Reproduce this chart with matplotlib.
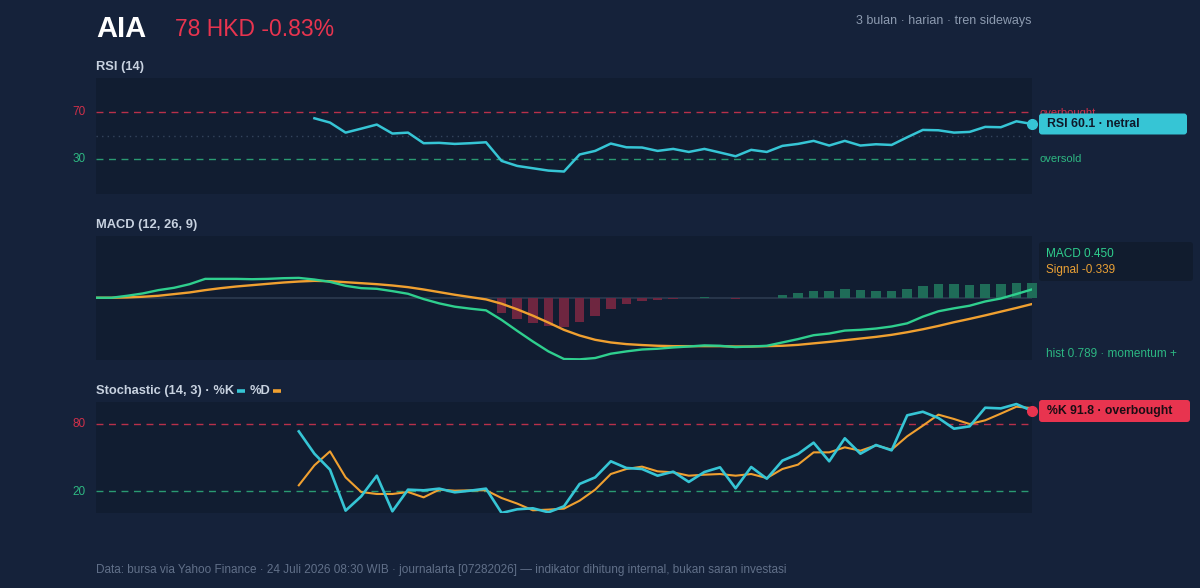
import numpy as np
import matplotlib
matplotlib.use("Agg")
import matplotlib.pyplot as plt
from matplotlib.patches import FancyBboxPatch

plt.rcParams['font.family'] = ['Liberation Sans', 'DejaVu Sans']

# ---- data ----
rsi_idx = list(range(14, 61))
rsi = [65.0, 61.3, 52.7, 56.1, 59.6, 51.9, 52.7, 43.6, 43.9, 43.0, 43.6, 44.4,
       28.4, 24.1, 22.1, 20.1, 19.3, 33.9, 37.0, 43.3, 40.1, 39.9, 37.0, 38.7,
       36.1, 38.7, 35.6, 32.4, 37.9, 36.1, 41.3, 43.0, 45.6, 41.6, 45.6, 41.6,
       42.7, 42.1, 48.7, 55.0, 54.7, 52.7, 53.3, 57.6, 57.3, 62.4, 60.1]

macd_idx = list(range(0, 61))
macd = [0.0, 0.0, 0.107, 0.232, 0.411, 0.536, 0.732, 1.018, 1.018, 1.018, 1.0,
        1.018, 1.054, 1.071, 0.982, 0.857, 0.643, 0.518, 0.482, 0.357, 0.214,
        -0.071, -0.304, -0.482, -0.589, -0.679, -1.196, -1.786, -2.357, -2.893,
        -3.304, -3.321, -3.25, -3.018, -2.893, -2.79, -2.75, -2.68, -2.63, -2.57,
        -2.59, -2.66, -2.63, -2.59, -2.41, -2.23, -2.02, -1.93, -1.77, -1.73,
        -1.66, -1.55, -1.38, -1.02, -0.73, -0.57, -0.43, -0.20, -0.04, 0.20, 0.45]
signal = [0.0, 0.0, 0.018, 0.054, 0.107, 0.196, 0.286, 0.411, 0.518, 0.607,
          0.679, 0.75, 0.821, 0.875, 0.911, 0.893, 0.839, 0.786, 0.732, 0.661,
          0.571, 0.446, 0.304, 0.161, 0.036, -0.089, -0.321, -0.625, -0.964,
          -1.339, -1.732, -2.036, -2.268, -2.411, -2.5, -2.55, -2.59, -2.61,
          -2.61, -2.61, -2.61, -2.63, -2.63, -2.61, -2.59, -2.54, -2.46, -2.38,
          -2.29, -2.20, -2.11, -2.00, -1.86, -1.70, -1.52, -1.32, -1.14, -0.95,
          -0.75, -0.55, -0.339]
hist_idx = list(range(26, 61))
hist = [-0.84, -1.14, -1.34, -1.50, -1.57, -1.29, -0.96, -0.59, -0.36, -0.18,
        -0.14, -0.05, -0.04, 0.02, -0.02, -0.07, 0.0, 0.0, 0.13, 0.25, 0.39,
        0.37, 0.46, 0.41, 0.39, 0.36, 0.46, 0.64, 0.73, 0.73, 0.70, 0.75, 0.75,
        0.80, 0.789]

stoch_idx = list(range(13, 61))
stoch_k = [73.4, 53.4, 39.1, 2.4, 15.2, 33.7, 1.8, 21.2, 20.6, 22.1, 18.8, 20.3,
           22.1, 0.3, 3.6, 4.5, 0.9, 6.3, 26.3, 32.2, 46.6, 40.6, 39.7, 33.7,
           37.3, 28.1, 37.0, 41.2, 22.4, 41.5, 31.0, 47.2, 53.1, 63.3, 46.6,
           67.2, 53.4, 61.2, 56.4, 87.8, 91.0, 85.4, 75.8, 77.9, 94.6, 94.0,
           97.9, 91.8]
stoch_d = [25.1, 43.0, 55.5, 32.2, 19.1, 17.3, 17.3, 19.1, 14.3, 21.2, 20.3,
           20.6, 20.6, 13.7, 8.7, 2.7, 3.3, 4.2, 11.3, 21.2, 35.2, 39.7, 41.8,
           37.6, 36.7, 33.7, 34.6, 35.2, 33.7, 35.2, 31.6, 39.7, 43.6, 54.6,
           54.6, 59.1, 56.1, 60.9, 57.0, 69.0, 78.5, 88.4, 84.5, 80.0, 83.3,
           89.3, 95.5, 94.3]

# ---- style ----
BG = '#15223a'
PANEL = '#111d31'
CYAN = '#36c5d5'
ORANGE = '#f0a030'
GREEN = '#2fcf8e'
RED = '#e8344f'
TITLE_C = '#c8d2e0'
W, H = 1200, 588

fig = plt.figure(figsize=(12, 5.88), dpi=100, facecolor=BG)


def panel(top, bottom):
    ax = fig.add_axes([96 / W, 1 - bottom / H, 936 / W, (bottom - top) / H])
    ax.set_facecolor(PANEL)
    for s in ax.spines.values():
        s.set_visible(False)
    ax.set_xticks([])
    ax.set_yticks([])
    ax.set_xlim(0, 60)
    return ax


# RSI
ax1 = panel(77.5, 194)
ax1.set_ylim(0, 100)
ax1.axhline(70, color='#b8304a', lw=1, ls=(0, (5, 4)))
ax1.axhline(30, color='#2a9a72', lw=1, ls=(0, (5, 4)))
ax1.axhline(50, color='#34445c', lw=1, ls=(0, (1, 3)))
ax1.plot(rsi_idx, rsi, color=CYAN, lw=1.8, solid_joinstyle='round')
ax1.plot(rsi_idx[-1], rsi[-1], 'o', color=CYAN, ms=7, clip_on=False, zorder=5)

# MACD
ax2 = panel(236, 359.5)
ax2.set_ylim(-3.33, 3.33)
ax2.axhline(0, color='#2c3a50', lw=1.2)
ax2.bar(hist_idx, hist, width=0.62,
        color=['#1f6c58' if v >= 0 else '#6e2640' for v in hist],
        clip_on=False, zorder=2)
ax2.plot(macd_idx, signal, color=ORANGE, lw=1.7, zorder=3)
ax2.plot(macd_idx, macd, color=GREEN, lw=1.7, zorder=4)

# Stochastic
ax3 = panel(401.7, 513.3)
ax3.set_ylim(0, 100)
ax3.axhline(80, color='#b8304a', lw=1, ls=(0, (5, 4)))
ax3.axhline(20, color='#2a9a72', lw=1, ls=(0, (5, 4)))
ax3.plot(stoch_idx, stoch_d, color=ORANGE, lw=1.5, zorder=3)
ax3.plot(stoch_idx, stoch_k, color=CYAN, lw=1.9, zorder=4)
ax3.plot(stoch_idx[-1], stoch_k[-1], 'o', color=RED, ms=7, clip_on=False, zorder=5)

# overlay in pixel coordinates for texts and boxes
ov = fig.add_axes([0, 0, 1, 1], facecolor='none')
ov.set_xlim(0, W)
ov.set_ylim(H, 0)
ov.axis('off')

ov.text(96, 29, 'AIA', color='white', fontsize=21, fontweight='bold', va='center')
ov.text(175, 30, '78 HKD -0.83%', color=RED, fontsize=16.5, va='center')
ov.text(1032, 21, '3 bulan · harian · tren sideways', color='#8d9bb0',
        fontsize=9, va='center', ha='right')

ov.text(96, 67, 'RSI (14)', color=TITLE_C, fontsize=9.3, fontweight='bold', va='center')
ov.text(96, 225, 'MACD (12, 26, 9)', color=TITLE_C, fontsize=9.3, fontweight='bold', va='center')
st = ov.text(96, 391, 'Stochastic (14, 3) · %K', color=TITLE_C, fontsize=9.3,
             fontweight='bold', va='center')

# y labels
ov.text(86, 112.3, '70', color='#d0304a', fontsize=8.5, va='center', ha='right')
ov.text(86, 159, '30', color='#2eb882', fontsize=8.5, va='center', ha='right')
ov.text(86, 424.3, '80', color='#d0304a', fontsize=8.5, va='center', ha='right')
ov.text(86, 491.7, '20', color='#2eb882', fontsize=8.5, va='center', ha='right')

# reference line labels
ov.text(1040, 112.5, 'overbought', color='#d0304a', fontsize=8, va='center')
ov.text(1040, 159, 'oversold', color='#2eb882', fontsize=8, va='center')

# RSI badge
ov.add_patch(FancyBboxPatch((1039, 113.5), 148, 21, boxstyle='round,pad=0,rounding_size=3',
                            fc=CYAN, ec='none', zorder=5))
ov.text(1047, 124, 'RSI 60.1 · netral', color='#0f1a2b', fontsize=8.8,
        fontweight='bold', va='center', zorder=6)

# MACD legend box
ov.add_patch(FancyBboxPatch((1039, 242), 154, 39, boxstyle='round,pad=0,rounding_size=3',
                            fc='#111c2e', ec='none', zorder=5))
ov.text(1046, 254, 'MACD 0.450', color=GREEN, fontsize=8.5, va='center', zorder=6)
ov.text(1046, 270, 'Signal -0.339', color='#e9a035', fontsize=8.5, va='center', zorder=6)
ov.text(1046, 354, 'hist 0.789 · momentum +', color='#2cb682', fontsize=8.5, va='center')

# Stochastic badge
ov.add_patch(FancyBboxPatch((1039, 400), 151, 22, boxstyle='round,pad=0,rounding_size=3',
                            fc=RED, ec='none', zorder=5))
ov.text(1047, 411, '%K 91.8 · overbought', color='#1a0d14', fontsize=8.8,
        fontweight='bold', va='center', zorder=6)

# footer
ov.text(96, 570, 'Data: bursa via Yahoo Finance · 24 Juli 2026 08:30 WIB · journalarta '
        '[07282026] — indikator dihitung internal, bukan saran investasi',
        color='#617089', fontsize=8.5, va='center')

# legend dashes after the stochastic title
fig.canvas.draw()
bb = st.get_window_extent()
x0 = bb.x1 + 3
ov.plot([x0, x0 + 8], [391, 391], color=CYAN, lw=2.6, solid_capstyle='butt')
t2 = ov.text(x0 + 12, 391, '%D', color=TITLE_C, fontsize=9.3, fontweight='bold', va='center')
fig.canvas.draw()
bb2 = t2.get_window_extent()
x1 = bb2.x1 + 3
ov.plot([x1, x1 + 8], [391, 391], color=ORANGE, lw=2.6, solid_capstyle='butt')

fig.savefig('out.png', dpi=100, facecolor=BG)
